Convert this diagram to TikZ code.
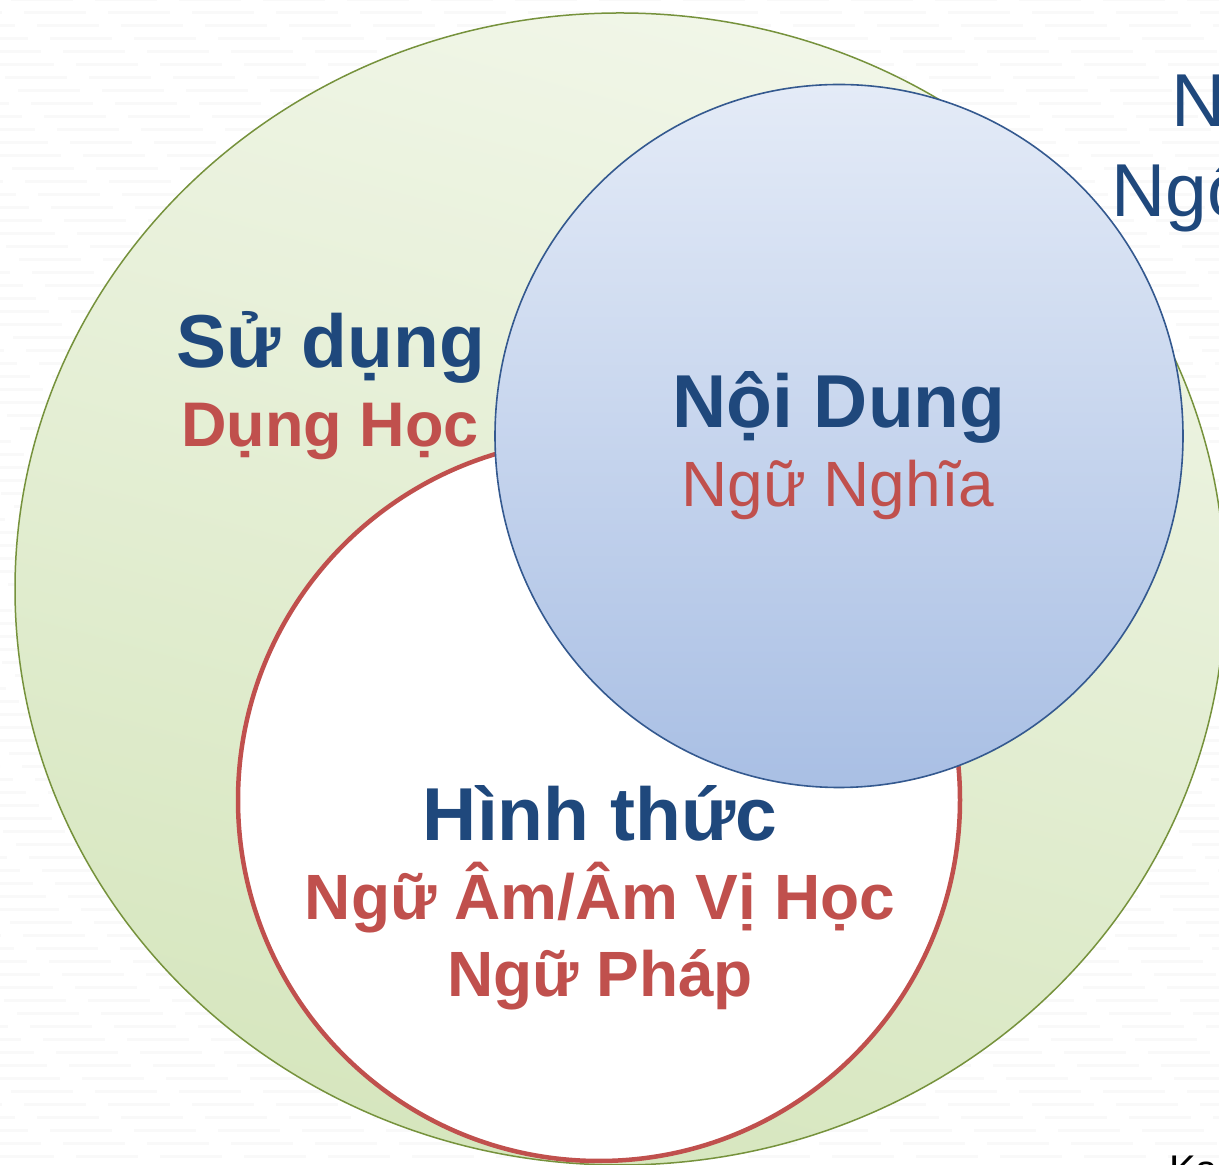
\documentclass[tikz,border=0pt]{standalone}
\usepackage{fontspec}
\setmainfont{Liberation Sans}
\usetikzlibrary{shapes.geometric}
\definecolor{tblue}{HTML}{1F487C}
\definecolor{tred}{HTML}{C0504D}
\definecolor{gstroke}{HTML}{76923C}
\definecolor{gtop}{HTML}{F1F6E8}
\definecolor{gbot}{HTML}{D6E6BE}
\definecolor{bstroke}{HTML}{34598F}
\definecolor{btop}{HTML}{E4EBF7}
\definecolor{bbot}{HTML}{A9BFE4}
\tikzset{
  circ/.style={ellipse, inner sep=0pt},
  title/.style={anchor=base, inner sep=0pt, text=tblue, font=\bfseries\fontsize{75}{80}\selectfont},
  sub/.style={anchor=base, inner sep=0pt, text=tred, font=\bfseries\fontsize{62}{66}\selectfont},
  side/.style={anchor=base west, inner sep=0pt, text=tblue, font=\fontsize{75}{80}\selectfont}
}
\begin{document}
\begin{tikzpicture}[x=1pt,y=1pt]
\useasboundingbox (0,0) rectangle (1219,1165);
\clip (0,0) rectangle (1219,1165);
\fill[white] (0,0) rectangle (1219,1165);
% faint background texture
\foreach \yy in {8,21,...,1165} {
  \draw[black!2.5, line width=3pt, dash pattern=on 62pt off 22pt, dash phase=\yy] (0,\yy) -- (1219,\yy);
}
\node[circ, draw=gstroke, line width=1.5pt, top color=gtop, bottom color=gbot, shading angle=-15,
      minimum width=1210pt, minimum height=1152pt] (green) at (620,576) {};
\node[circ, draw=tred, line width=4.5pt, fill=white,
      minimum width=722pt, minimum height=722pt] (red) at (599,365) {};
\node[circ, draw=bstroke, line width=1.6pt, top color=btop, bottom color=bbot,
      minimum width=688pt, minimum height=703pt] (blue) at (839,729) {};

\node[title] (sudung) at (331,797) {Sử dụng};
\node[sub, font=\bfseries\fontsize{63}{66}\selectfont] (dunghoc) at (330,718) {Dụng Học};
\node[title] (noidung) at (839,737) {Nội Dung};
\node[sub, font=\fontsize{64}{68}\selectfont] (ngunghia) at (838,658) {Ngữ Nghĩa};
\node[title] (hinhthuc) at (600,324) {Hình thức};
\node[sub, font=\bfseries\fontsize{64}{68}\selectfont] (nguam) at (600,245) {Ngữ Âm/Âm Vị Học};
\node[sub, font=\bfseries\fontsize{64}{68}\selectfont] (ngphap) at (600,168) {Ngữ Pháp};

\node[side] (sideN) at (1171,1038) {N};
\node[side] (sideNg) at (1111,948) {Ngô};
\node[anchor=base west, inner sep=0pt, font=\fontsize{40}{44}\selectfont] (ka) at (1169,-19) {Ka};
\end{tikzpicture}
\end{document}
